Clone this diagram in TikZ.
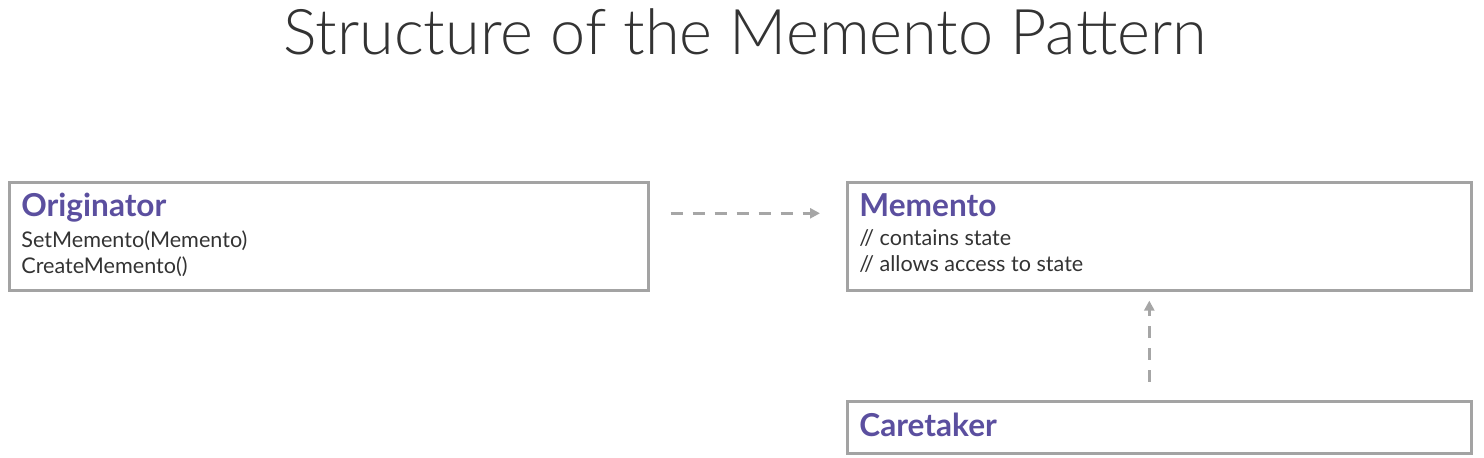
\documentclass[tikz,border=0pt]{standalone}
\usepackage{fontspec}
\setmainfont{Lato}
\newfontfamily\titlefont{Lato Light}
\usetikzlibrary{arrows.meta}
\definecolor{boxgray}{HTML}{A3A3A3}
\definecolor{arrgray}{HTML}{A6A6A6}
\definecolor{hdpurple}{HTML}{5B4F9F}
\definecolor{txtdark}{HTML}{333333}
\tikzset{
  box/.style={draw=boxgray, line width=1.3pt, rectangle, anchor=north west, inner sep=0pt},
  hdr/.style={anchor=base west, inner sep=0pt, text=hdpurple, font=\fontsize{15.8}{18}\selectfont\bfseries},
  body/.style={anchor=base west, inner sep=0pt, text=txtdark, font=\fontsize{10.8}{12}\selectfont},
  dep/.style={draw=arrgray, line width=1.4pt, dash pattern=on 6pt off 5pt, -{Triangle[length=5pt,width=5pt]}},
}
\begin{document}
\begin{tikzpicture}[x=0.5pt,y=-0.5pt]
\useasboundingbox (0,0) rectangle (1484,458);
\node[anchor=base, inner sep=0pt, text=txtdark, font=\titlefont\fontsize{31.5}{36}\selectfont] (title) at (745,55) {Structure of the Memento Pattern};
\node[box, minimum width=319.5pt, minimum height=54pt] (orig) at (8,181) {};
\node[box, minimum width=312pt, minimum height=54pt] (mem) at (846,181) {};
\node[box, minimum width=312pt, minimum height=26pt] (care) at (846,400) {};
\node[hdr] (origh) at (21,217) {Originator};
\node[body] (orig1) at (21,248) {SetMemento(Memento)};
\node[body] (orig2) at (21,274) {CreateMemento()};
\node[hdr] (memh) at (859,217) {Memento};
\node[body] (mem1) at (859,246) {// contains state};
\node[body] (mem2) at (859,272) {// allows access to state};
\node[hdr] (careh) at (859,437) {Caretaker};
\draw[dep, shorten <=10.5pt, shorten >=13pt] ([yshift=11.5pt]orig.east) -- ([yshift=11.5pt]mem.west);
\draw[dep, shorten <=9pt, shorten >=4.5pt] ([xshift=-5pt]care.north) -- ([xshift=-5pt]mem.south);
\end{tikzpicture}
\end{document}
